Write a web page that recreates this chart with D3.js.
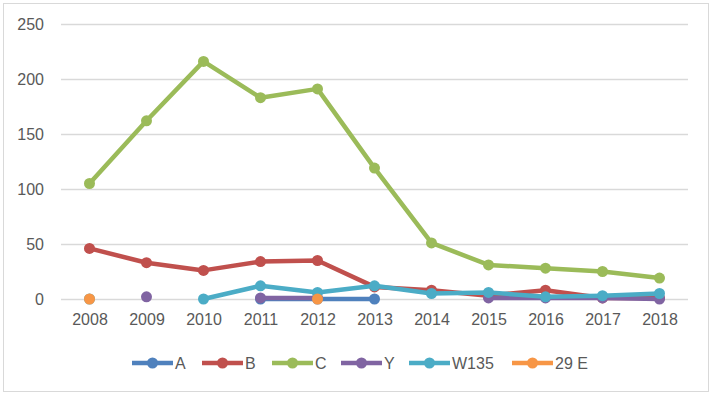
<!DOCTYPE html>
<html>
<head>
<meta charset="utf-8">
<script src="https://cdn.jsdelivr.net/npm/d3@7"></script>
<style>
  body { margin: 0; background: #fff; }
  svg text { font-family: "Liberation Sans", Arial, sans-serif; fill: #595959; }
</style>
</head>
<body>
<svg id="chart" width="713" height="396"></svg>
<script>
// ---------- data ----------
const years = ["2008","2009","2010","2011","2012","2013","2014","2015","2016","2017","2018"];
const yTicks = [0, 50, 100, 150, 200, 250];

const seriesA    = [null, null, null, 0, 0, 0, null, null, null, null, null];
const seriesB    = [46, 33, 26, 34, 35, 11, 8, 3, 8, 1, 1];
const seriesC    = [105, 162, 216, 183, 191, 119, 51, 31, 28, 25, 19];
const seriesY    = [null, 2, null, 1, 1, null, null, 1, 1, 1, 0];
const seriesW135 = [0, null, 0, 12, 6, 12, 5, 6, 2, 3, 5];
const series29E  = [0, null, null, null, 0, null, null, null, null, null, null];

const seriesNames = ["A", "B", "C", "Y", "W135", "29 E"];
const seriesColors = ["#4f81bd", "#c0504d", "#9bbb59", "#8064a2", "#4bacc6", "#f79646"];
const seriesValues = [seriesA, seriesB, seriesC, seriesY, seriesW135, series29E];

// ---------- layout ----------
const svg = d3.select("#chart");
const margin = {left: 61, right: 25, top: 24, bottom: 97};
const width = 713, height = 396;

// outer frame
svg.append("rect")
  .attr("x", 3.5).attr("y", 3.5)
  .attr("width", 705).attr("height", 388)
  .attr("fill", "#fff")
  .attr("stroke", "#d9d9d9");

const x = d3.scalePoint()
  .domain(years)
  .range([margin.left, width - margin.right])
  .padding(0.5);

const y = d3.scaleLinear()
  .domain([0, 250])
  .range([height - margin.bottom, margin.top]);

// gridlines + y labels
const yAxis = d3.axisLeft(y)
  .tickValues(yTicks)
  .tickSize(-(width - margin.right - margin.left))
  .tickPadding(17);

svg.append("g")
  .attr("transform", `translate(${margin.left},0)`)
  .call(yAxis)
  .call(g => g.select(".domain").remove())
  .call(g => g.selectAll(".tick line").attr("stroke", "#d9d9d9").attr("stroke-width", 1.3))
  .call(g => g.selectAll(".tick text").attr("font-size", 16).attr("fill", "#595959"));

// x labels
const xAxis = d3.axisBottom(x).tickSize(0).tickPadding(15);
svg.append("g")
  .attr("transform", `translate(0,${y(0)})`)
  .call(xAxis)
  .call(g => g.select(".domain").remove())
  .call(g => g.selectAll(".tick text").attr("font-size", 16).attr("fill", "#595959"));

// ---------- lines ----------
const line = d3.line()
  .defined(d => d.v !== null)
  .x(d => x(d.year))
  .y(d => y(d.v));

seriesValues.forEach((vals, i) => {
  const pts = vals.map((v, j) => ({year: years[j], v: v}));
  const g = svg.append("g").attr("class", "series");
  g.append("path")
    .datum(pts)
    .attr("fill", "none")
    .attr("stroke", seriesColors[i])
    .attr("stroke-width", 4.5)
    .attr("stroke-linejoin", "round")
    .attr("d", line);
  g.selectAll("circle")
    .data(pts.filter(d => d.v !== null))
    .join("circle")
    .attr("cx", d => x(d.year))
    .attr("cy", d => y(d.v))
    .attr("r", 5.5)
    .attr("fill", seriesColors[i]);
});

// ---------- legend ----------
const legendX = [132, 202, 272, 341, 409, 512];
const legendY = 363;
const legend = svg.append("g");
seriesNames.forEach((name, i) => {
  const item = legend.append("g").attr("transform", `translate(${legendX[i]},${legendY})`);
  item.append("line")
    .attr("x1", 0).attr("x2", 41)
    .attr("stroke", seriesColors[i])
    .attr("stroke-width", 4.5);
  item.append("circle")
    .attr("cx", 20.5).attr("r", 5.5)
    .attr("fill", seriesColors[i]);
  item.append("text")
    .attr("x", 43).attr("dy", "0.35em")
    .attr("font-size", 16)
    .text(name);
});
</script>
</body>
</html>
